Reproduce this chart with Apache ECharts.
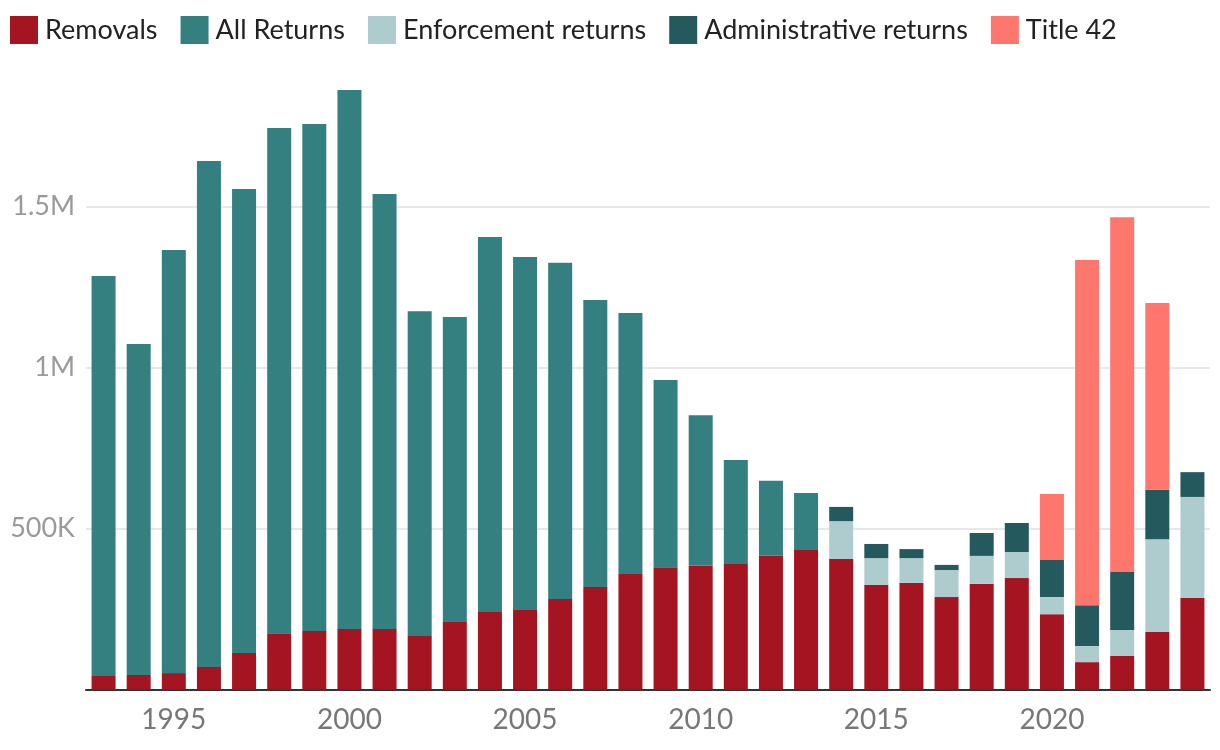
<!DOCTYPE html>
<html>
<head>
<meta charset="utf-8">
<script src="https://cdn.jsdelivr.net/npm/echarts@6/dist/echarts.min.js"></script>
<style>
html, body { margin: 0; padding: 0; background: #fff; }
#main { width: 1220px; height: 750px; }
</style>
</head>
<body>
<div id="main"></div>
<script>
// values in thousands
var years = [];
for (var y = 1993; y <= 2024; y++) years.push(String(y));

var removals = [42, 45, 51, 70, 113, 175, 182, 188, 188, 166, 210, 241, 247, 281, 318, 359,
	380, 384, 390, 415, 433, 405, 325, 331, 287, 328, 346, 234, 85, 104, 179, 284];
var allReturns = [1242, 1028, 1314, 1571, 1441, 1569, 1574, 1674, 1351, 1009, 947, 1164, 1096,
	1044, 892, 810, 581, 468, 323, 233, 177, null, null, null, null, null, null, null, null, null, null, null];
var enforcement = [null, null, null, null, null, null, null, null, null, null, null, null, null,
	null, null, null, null, null, null, null, null, 118, 83, 77, 84, 87, 81, 53, 50, 81, 288, 314];
var administrative = [null, null, null, null, null, null, null, null, null, null, null, null, null,
	null, null, null, null, null, null, null, null, 44, 44, 28, 16, 71, 90, 115, 127, 180, 153, 77];
var title42 = [null, null, null, null, null, null, null, null, null, null, null, null, null,
	null, null, null, null, null, null, null, null, null, null, null, null, null, null, 205, 1072, 1102, 580, null];

var chartDom = document.getElementById('main');
var myChart = echarts.init(chartDom);
var option;

var fontName = 'Lato';

function bar(name, data, color) {
	return {
		name: name,
		type: 'bar',
		stack: 'total',
		barWidth: 24,
		data: data,
		itemStyle: { color: color },
		emphasis: { disabled: true }
	};
}

option = {
	animation: false,
	textStyle: { fontFamily: fontName },
	legend: {
		left: 10,
		top: 16,
		padding: 0,
		itemWidth: 28,
		itemHeight: 28,
		itemGap: 23,
		icon: 'rect',
		textStyle: { fontSize: 27, color: '#222', fontFamily: fontName, padding: [0, 0, 0, 2] },
		data: ['Removals', 'All Returns', 'Enforcement returns', 'Administrative returns', 'Title 42']
	},
	grid: {
		left: 86,
		right: 10,
		top: 77.7,
		bottom: 60.5,
		containLabel: false
	},
	xAxis: {
		type: 'category',
		data: years,
		axisLine: { lineStyle: { color: '#333', width: 2 } },
		axisTick: { show: false },
		axisLabel: {
			color: '#777',
			fontSize: 28,
			margin: 16,
			interval: function (idx, val) { return Number(val) % 5 === 0; }
		}
	},
	yAxis: {
		type: 'value',
		min: 0,
		max: 1900,
		interval: 500,
		axisLine: { show: false },
		axisTick: { show: false },
		splitLine: {
			lineStyle: { color: ['#e8e8e8', '#e8e8e8', '#e8e8e8', '#e8e8e8', 'rgba(0,0,0,0)'], width: 2 }
		},
		axisLabel: {
			color: '#9a9a9a',
			fontSize: 27,
			margin: 11,
			showMinLabel: false,
			showMaxLabel: false,
			formatter: function (v) {
				if (v >= 1000) return (v / 1000) + 'M';
				return v + 'K';
			}
		}
	},
	series: [
		bar('Removals', removals, '#a51421'),
		bar('All Returns', allReturns, '#347f80'),
		bar('Enforcement returns', enforcement, '#aecbcd'),
		bar('Administrative returns', administrative, '#245a5d'),
		bar('Title 42', title42, '#ff766d')
	]
};

option && myChart.setOption(option);
</script>
</body>
</html>
